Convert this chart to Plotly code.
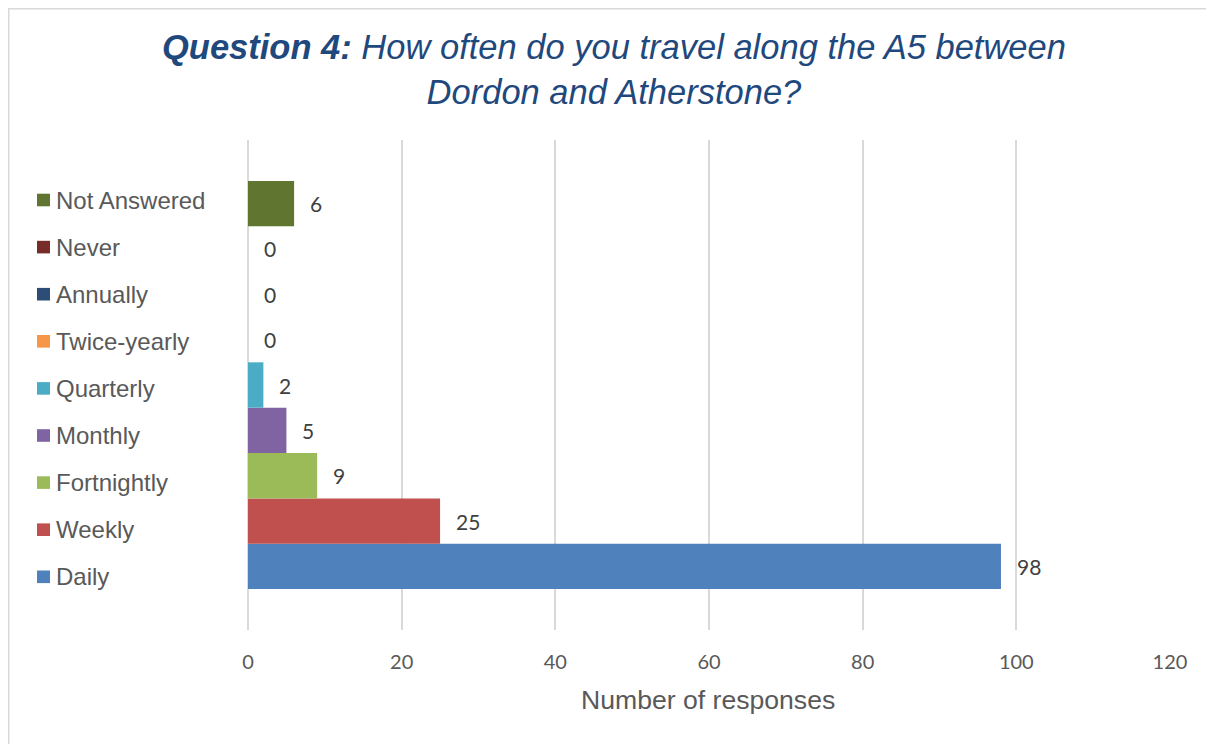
import plotly.graph_objects as go

# ---- data ----
categories = ["Daily", "Weekly", "Fortnightly", "Monthly", "Quarterly",
              "Twice-yearly", "Annually", "Never", "Not Answered"]
responses = [98, 25, 9, 5, 2, 0, 0, 0, 6]
colors = ["#4f81bd", "#c0504d", "#9bbb59", "#8064a2", "#4bacc6",
          "#f79646", "#2c4d75", "#772c2a", "#5f7530"]
x_ticks = [0, 20, 40, 60, 80, 100, 120]

# page offset of the figure inside the browser window (body margin)
OFF = 8
W, H = 1214, 744
# plot area in page pixels: x 248..1170, y 140..630
PL, PR, PT, PB = 248, 1170, 140, 630
L, T = PL - OFF, PT - OFF
R = W - (PR - OFF)
B = H - (PB - OFF)
pw, ph = PR - PL, PB - PT
bargap = 0.167

def px_to_paper_x(px):
    return (px - PL) / pw

def px_to_paper_y(py):
    return (PB - py) / ph

fig = go.Figure()
for cat, val, col in zip(categories, responses, colors):
    fig.add_trace(go.Bar(x=[val], y=[0], orientation="h", name=cat,
                         marker=dict(color=col, line=dict(width=0)),
                         showlegend=False, hoverinfo="x+name"))

annotations = []
n = len(categories)
gw = 1 - bargap
for k, (cat, val) in enumerate(zip(categories, responses)):
    yc = -gw / 2 + (k + 0.5) * gw / n
    annotations.append(dict(x=val, y=yc, xref="x", yref="y", text=str(val),
                            showarrow=False, xanchor="left", yanchor="middle",
                            xshift=14, font=dict(family="Lato", size=21, color="#404040")))

# legend (left, top to bottom = reverse of categories)
shapes = []
leg_top, leg_step = 200, 47.1
for i, (cat, col) in enumerate(zip(categories[::-1], colors[::-1])):
    py = leg_top + i * leg_step
    shapes.append(dict(type="rect", xref="paper", yref="paper",
                       x0=px_to_paper_x(37), x1=px_to_paper_x(50),
                       y0=px_to_paper_y(py - 6.3), y1=px_to_paper_y(py + 6.3),
                       fillcolor=col, line=dict(width=0)))
    annotations.append(dict(x=px_to_paper_x(54), y=px_to_paper_y(py), xref="paper", yref="paper",
                            text=cat, showarrow=False, xanchor="left", yanchor="middle",
                            font=dict(family="Arial, Liberation Sans", size=24, color="#595959")))

# title
annotations.append(dict(x=px_to_paper_x(614), y=px_to_paper_y(69), xref="paper", yref="paper",
                        text="<i><b>Question 4:</b> How often do you travel along the A5 between<br>Dordon and Atherstone?</i>",
                        showarrow=False, xanchor="center", yanchor="middle", align="center",
                        font=dict(family="Arial, Liberation Sans", size=34.5, color="#1f497d")))
# axis title
annotations.append(dict(x=px_to_paper_x(708), y=px_to_paper_y(700), xref="paper", yref="paper",
                        text="Number of responses", showarrow=False,
                        xanchor="center", yanchor="middle",
                        font=dict(family="Arial, Liberation Sans", size=26.6, color="#595959")))

# outer chart border (at the figure's top/left edge)
shapes.append(dict(type="rect", xref="paper", yref="paper",
                   x0=px_to_paper_x(OFF + 0.5), x1=px_to_paper_x(1400),
                   y0=px_to_paper_y(1000), y1=px_to_paper_y(OFF + 0.5),
                   line=dict(color="#d9d9d9", width=2), fillcolor="rgba(0,0,0,0)", layer="below"))

fig.update_layout(
    width=W, height=H,
    margin=dict(l=L, r=R, t=T, b=B, pad=0),
    paper_bgcolor="white", plot_bgcolor="white",
    barmode="group", bargap=bargap, bargroupgap=0,
    annotations=annotations, shapes=shapes,
    xaxis=dict(range=[0, 120], tickvals=x_ticks, showgrid=True,
               gridcolor="#d9d9d9", gridwidth=1.5, zeroline=True,
               zerolinecolor="#d9d9d9", zerolinewidth=1.5, showline=False,
               ticks="", ticklabelstandoff=18,
               tickfont=dict(family="Lato", size=20, color="#595959"), fixedrange=True),
    yaxis=dict(range=[-0.5, 0.5], showticklabels=False, showgrid=False,
               zeroline=False, showline=False, ticks="", fixedrange=True),
    showlegend=False,
)

fig.write_html("out.html")
